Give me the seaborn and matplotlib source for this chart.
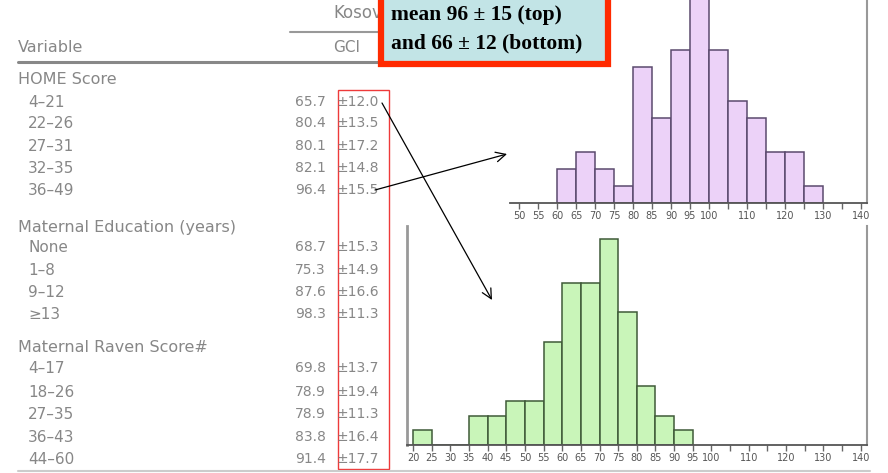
import numpy as np
import pandas as pd
import matplotlib
matplotlib.use("Agg")
import matplotlib.pyplot as plt
from matplotlib.patches import Rectangle
import seaborn as sns

# --- data ---
top_lower = [60, 65, 70, 75, 80, 85, 90, 95, 100, 105, 110, 115, 120, 125]
top_counts = [2, 3, 2, 1, 8, 5, 9, 13, 9, 6, 5, 3, 3, 1]
low_lower = [20, 25, 30, 35, 40, 45, 50, 55, 60, 65, 70, 75, 80, 85, 90]
low_counts = [1, 0, 0, 2, 2, 3, 3, 7, 11, 11, 14, 9, 4, 2, 1]

top_tick_labels = [50, 55, 60, 65, 70, 75, 80, 85, 90, 95, 100, 110, 120, 130, 140]
low_tick_labels = [20, 25, 30, 35, 40, 45, 50, 55, 60, 65, 70, 75, 80, 85, 90, 95,
                   100, 110, 120, 130, 140]
minor_ticks = [105, 115, 125, 135]

groups = ["HOME Score", "Maternal Education (years)", "Maternal Raven Score#"]
home_levels = ["4–21", "22–26", "27–31", "32–35", "36–49"]
home_mean = ["65.7", "80.4", "80.1", "82.1", "96.4"]
home_sd = ["±12.0", "±13.5", "±17.2", "±14.8", "±15.5"]
edu_levels = ["None", "1–8", "9–12", "≥13"]
edu_mean = ["68.7", "75.3", "87.6", "98.3"]
edu_sd = ["±15.3", "±14.9", "±16.6", "±11.3"]
raven_levels = ["4–17", "18–26", "27–35", "36–43", "44–60"]
raven_mean = ["69.8", "78.9", "78.9", "83.8", "91.4"]
raven_sd = ["±13.7", "±19.4", "±11.3", "±16.4", "±17.7"]

box_lines = ["mean 96 ± 15 (top)", "and 66 ± 12 (bottom)"]

# --- layout (pixels of the 888x473 picture) ---
W, H = 888, 473
sns.set_style("white")
plt.rcParams["font.family"] = ["DejaVu Sans"]

fig = plt.figure(figsize=(W / 100, H / 100), dpi=100)


def px_axes(x0, y0, x1, y1):
    return fig.add_axes([x0 / W, 1 - y1 / H, (x1 - x0) / W, (y1 - y0) / H])


def style_hist(ax, major, xlim, ylim, show_left):
    ax.set_xlim(*xlim)
    ax.set_ylim(*ylim)
    ax.set_xticks(major)
    ax.set_xticks(minor_ticks, minor=True)
    ax.set_xticklabels([str(v) for v in major])
    ax.tick_params(axis="x", which="both", direction="out", length=4, width=1,
                   color="#666666", labelsize=7, labelcolor="#555555", pad=2,
                   bottom=True)
    ax.set_yticks([])
    ax.set_xlabel("")
    ax.set_ylabel("")
    ax.spines["top"].set_visible(False)
    ax.spines["left"].set_visible(show_left)
    ax.spines["left"].set_color("#999999")
    ax.spines["left"].set_linewidth(2)
    ax.spines["right"].set_color("#999999")
    ax.spines["right"].set_linewidth(1.5)
    ax.spines["bottom"].set_color("#555555")
    ax.spines["bottom"].set_linewidth(1.3)
    ax.set_facecolor("none")


# top histogram
ax_top = px_axes(510, 0, 867, 203)
top_df = pd.DataFrame({"score": top_lower, "n": top_counts})
sns.histplot(data=top_df, x="score", weights="n", binwidth=5, binrange=(60, 130),
             color="#ecd2f8", edgecolor="#5b4a6e", linewidth=1.1, alpha=1, ax=ax_top)
style_hist(ax_top, top_tick_labels, (47.6, 141.6), (0, 11.94), False)

# bottom histogram
ax_low = px_axes(407, 226, 867, 445)
low_df = pd.DataFrame({"score": low_lower, "n": low_counts})
sns.histplot(data=low_df, x="score", weights="n", binwidth=5, binrange=(20, 95),
             color="#c9f5b9", edgecolor="#3f5a38", linewidth=1.1, alpha=1, ax=ax_low)
style_hist(ax_low, low_tick_labels, (18.4, 141.7), (0, 14.85), True)

# overlay for the table, box and arrows
ov = fig.add_axes([0, 0, 1, 1], zorder=10)
ov.set_xlim(0, W)
ov.set_ylim(H, 0)
ov.axis("off")
ov.set_facecolor("none")

grey = "#7a7a7a"
tkw = dict(color=grey, va="center", alpha=0.9)

ov.text(333, 13, "Kosovo", ha="left", fontsize=12, **tkw)
ov.plot([290, 395], [32, 32], color="#999999", lw=1.5)
ov.text(18, 47, "Variable", ha="left", fontsize=11.5, **tkw)
ov.text(333, 47, "GCI", ha="left", fontsize=11, **tkw)
ov.plot([18, 395], [62, 62], color="#888888", lw=2.2)
ov.plot([18, 870], [471, 471], color="#cccccc", lw=1.5)

header_y = [80, 227, 347]
row_y = [[102, 123, 146, 168, 190], [247, 270, 292, 314], [368, 392, 414, 437, 459]]
table = [(home_levels, home_mean, home_sd),
         (edu_levels, edu_mean, edu_sd),
         (raven_levels, raven_mean, raven_sd)]
for g, hy, ys, (levels, means, sds) in zip(groups, header_y, row_y, table):
    ov.text(18, hy, g, ha="left", fontsize=11.5, **tkw)
    for y, lv, m, s in zip(ys, levels, means, sds):
        ov.text(28, y, lv, ha="left", fontsize=11, **tkw)
        ov.text(295, y, m, ha="left", fontsize=10, **tkw)
        ov.text(379, y, s, ha="right", fontsize=10, **tkw)

# thin red frame around the SD column
ov.add_patch(Rectangle((338, 90), 51, 379, fill=False, edgecolor="#ee3a3a", lw=1))

# arrows
akw = dict(arrowstyle="->,head_length=0.7,head_width=0.35", color="black", lw=0.9,
           shrinkA=0, shrinkB=0)
ov.annotate("", xy=(492, 300), xytext=(382, 103), arrowprops=akw)
ov.annotate("", xy=(507, 154), xytext=(375, 190), arrowprops=akw)

# annotation box
ov.add_patch(Rectangle((381, -10), 227, 74, facecolor="#c2e4e6",
                       edgecolor="#ff2a00", lw=4.5, zorder=5))
for y, line in zip([15, 43], box_lines):
    ov.text(391, y, line, ha="left", va="center", fontsize=15.5, fontweight="bold",
            family="Liberation Serif", color="black", zorder=6)

fig.savefig("out.png", dpi=100)
